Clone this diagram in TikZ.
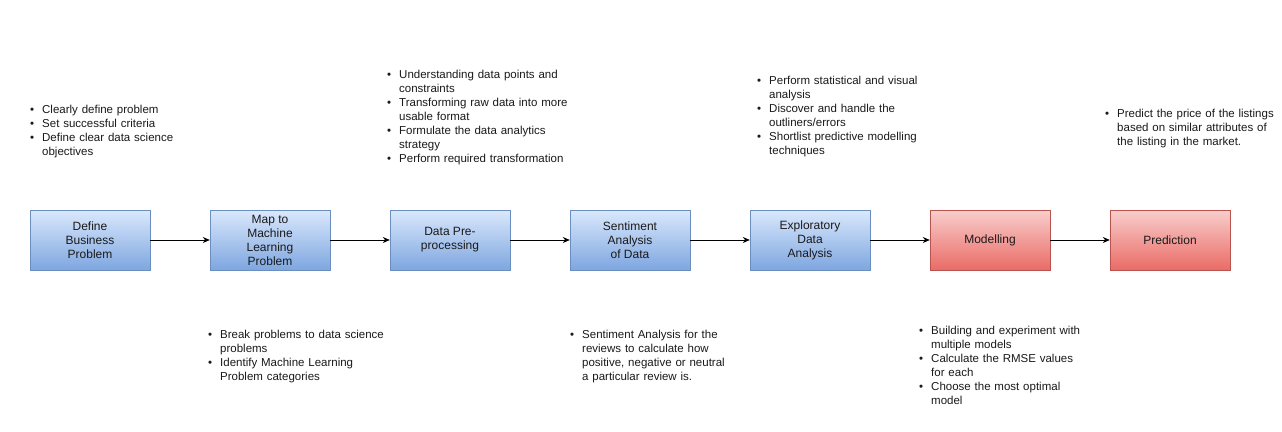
\documentclass[tikz,border=0pt]{standalone}
\usepackage{fontspec}
\setmainfont{Liberation Sans}
\usetikzlibrary{arrows.meta}
\definecolor{bluetop}{HTML}{DAE8FC}
\definecolor{bluebot}{HTML}{7EA6E0}
\definecolor{blueline}{HTML}{6C8EBF}
\definecolor{redtop}{HTML}{F8CECC}
\definecolor{redbot}{HTML}{EA6B66}
\definecolor{redline}{HTML}{B85450}
\definecolor{txt}{HTML}{1A1A1A}
\newcommand{\bit}[1]{\par\noindent\hangindent=12pt\hangafter=1\makebox[12pt][l]{\textbullet}#1\par}
\tikzset{
  bluebox/.style={draw=blueline, top color=bluetop, bottom color=bluebot, minimum width=120pt, minimum height=60pt, inner sep=0pt, align=center, font=\fontsize{12}{14}\selectfont, text=txt},
  redbox/.style={draw=redline, top color=redtop, bottom color=redbot, minimum width=120pt, minimum height=60pt, inner sep=0pt, align=center, font=\fontsize{12}{14}\selectfont, text=txt},
  note/.style={anchor=north west, inner sep=0pt, text width=240pt, font=\fontsize{11.5}{14}\selectfont\raggedright, text=txt},
  flow/.style={-{Stealth[length=7pt,width=6pt]}, line width=0.9pt}
}
\begin{document}
\begin{tikzpicture}[x=1pt,y=-1pt]
\useasboundingbox[fill=white] (0,0) rectangle (1282,431);
\node[bluebox] (b1) at (90,240) {Define\\Business\\Problem};
\node[bluebox] (b2) at (270,240) {Map to\\Machine\\Learning\\Problem};
\node[bluebox] (b3) at (450,240) {Data Pre-\\processing};
\node[bluebox] (b4) at (630,240) {Sentiment\\Analysis\\of Data};
\node[bluebox] (b5) at (810,240) {Exploratory\\Data\\Analysis};
\node[redbox] (b6) at (990,240) {Modelling};
\node[redbox] (b7) at (1170,240) {Prediction};
\draw[flow] (b1) -- (b2);
\draw[flow] (b2) -- (b3);
\draw[flow] (b3) -- (b4);
\draw[flow] (b4) -- (b5);
\draw[flow] (b5) -- (b6);
\draw[flow] (b6) -- (b7);

\node[note] (n1) at (30,99) {\bit{Clearly define problem}\bit{Set successful criteria}\bit{Define clear data science\newline objectives}};
\node[note] (n2) at (387,64) {\bit{Understanding data points and\newline constraints}\bit{Transforming raw data into more\newline usable format}\bit{Formulate the data analytics\newline strategy}\bit{Perform required transformation}};
\node[note] (n3) at (757,70) {\bit{Perform statistical and visual\newline analysis}\bit{Discover and handle the\newline outliners/errors}\bit{Shortlist predictive modelling\newline techniques}};
\node[note] (n4) at (1105,103) {\bit{Predict the price of the listings\newline based on similar attributes of\newline the listing in the market.}};
\node[note] (n5) at (208,324) {\bit{Break problems to data science\newline problems}\bit{Identify Machine Learning\newline Problem categories}};
\node[note] (n6) at (570,324) {\bit{Sentiment Analysis for the\newline reviews to calculate how\newline positive, negative or neutral\newline a particular review is.}};
\node[note] (n7) at (919,320) {\bit{Building and experiment with\newline multiple models}\bit{Calculate the RMSE values\newline for each}\bit{Choose the most optimal\newline model}};
\end{tikzpicture}
\end{document}
